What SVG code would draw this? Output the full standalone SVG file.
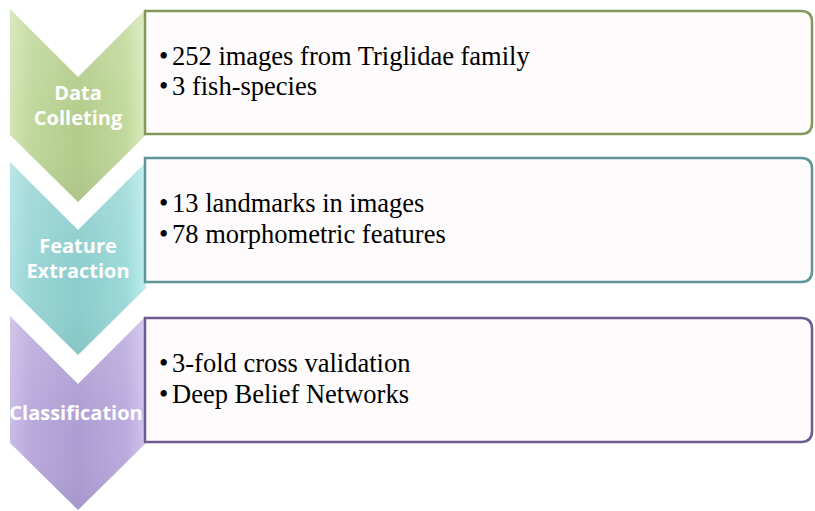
<svg xmlns="http://www.w3.org/2000/svg" width="815" height="511" viewBox="0 0 815 511">
<defs>
<linearGradient id="gG" x1="0" y1="0" x2="1" y2="0">
<stop offset="0" stop-color="#d3e5b3"/><stop offset="0.15" stop-color="#c0d89c"/><stop offset="0.5" stop-color="#b3cc8b"/><stop offset="0.85" stop-color="#c1d99c"/><stop offset="1" stop-color="#dbebbd"/>
</linearGradient>
<linearGradient id="gT" x1="0" y1="0" x2="1" y2="0">
<stop offset="0" stop-color="#b0e2e2"/><stop offset="0.15" stop-color="#9bd6d6"/><stop offset="0.5" stop-color="#8ccdcd"/><stop offset="0.85" stop-color="#9dd9d9"/><stop offset="1" stop-color="#bcEEEE"/>
</linearGradient>
<linearGradient id="gP" x1="0" y1="0" x2="1" y2="0">
<stop offset="0" stop-color="#c9bce6"/><stop offset="0.15" stop-color="#b9a9dc"/><stop offset="0.5" stop-color="#ad9dd2"/><stop offset="0.85" stop-color="#baaadd"/><stop offset="1" stop-color="#d0c3ee"/>
</linearGradient>
<linearGradient id="shade" x1="0" y1="0" x2="0" y2="1">
<stop offset="0" stop-color="#ffffff" stop-opacity="0.15"/><stop offset="0.6" stop-color="#ffffff" stop-opacity="0"/><stop offset="1" stop-color="#000000" stop-opacity="0.04"/>
</linearGradient>
</defs>
<style>
.box{fill:#fefbfd;stroke-width:2.5}
.t{font-family:"Liberation Serif","Times New Roman",serif;font-size:26.5px;fill:#000}
.c{font-family:"Open Sans","Liberation Sans",sans-serif;font-weight:bold;font-size:20px;fill:#fff;text-anchor:middle}
</style>
<rect width="815" height="511" fill="#ffffff"/>

<g id="step1">
<path d="M10,9 L78,77 L146,9 V135 L78,202 L10,135 Z" fill="url(#gG)"/>
<path d="M10,9 L78,77 L146,9 V135 L78,202 L10,135 Z" fill="url(#shade)"/>
<path class="box" d="M145,11 H801 Q812,11 812,22 V123 Q812,134 801,134 H145 Z" stroke="#84975a"/>
<text class="c" x="78" y="100">Data</text>
<text class="c" x="78" y="125">Colleting</text>
<text class="t" y="65"><tspan x="159">•</tspan><tspan x="172">252 images from Triglidae family</tspan></text>
<text class="t" y="95"><tspan x="159">•</tspan><tspan x="172">3 fish-species</tspan></text>
</g>

<g id="step2">
<path d="M10,162 L78,230 L146,162 V288 L78,355 L10,288 Z" fill="url(#gT)"/>
<path d="M10,162 L78,230 L146,162 V288 L78,355 L10,288 Z" fill="url(#shade)"/>
<path class="box" d="M145,158 H801 Q812,158 812,169 V271 Q812,282 801,282 H145 Z" stroke="#5e9495"/>
<text class="c" x="78" y="253">Feature</text>
<text class="c" x="78" y="278">Extraction</text>
<text class="t" y="212"><tspan x="159">•</tspan><tspan x="172">13 landmarks in images</tspan></text>
<text class="t" y="243"><tspan x="159">•</tspan><tspan x="172">78 morphometric features</tspan></text>
</g>

<g id="step3">
<path d="M10,316 L78,384 L146,316 V443 L78,510 L10,443 Z" fill="url(#gP)"/>
<path d="M10,316 L78,384 L146,316 V443 L78,510 L10,443 Z" fill="url(#shade)"/>
<path class="box" d="M145,318 H801 Q812,318 812,329 V431 Q812,442 801,442 H145 Z" stroke="#6b5c8f"/>
<text class="c" x="76" y="420">Classification</text>
<text class="t" y="372"><tspan x="159">•</tspan><tspan x="172">3-fold cross validation</tspan></text>
<text class="t" y="403"><tspan x="159">•</tspan><tspan x="172">Deep Belief Networks</tspan></text>
</g>
</svg>
